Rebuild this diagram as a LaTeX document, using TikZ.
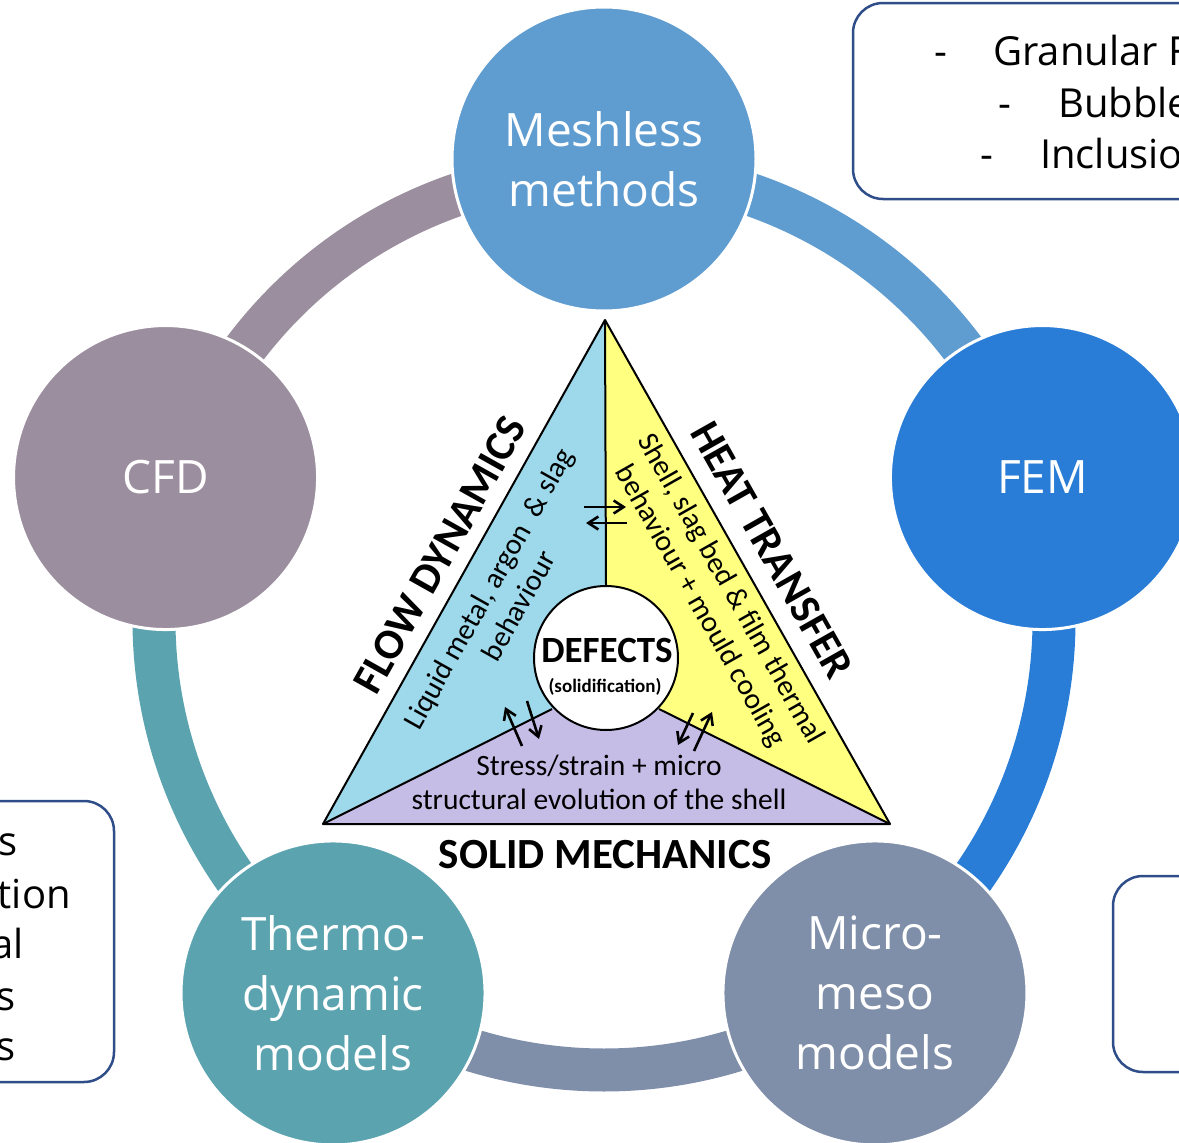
\documentclass[tikz,border=0pt]{standalone}
\usepackage{fontspec}
\setmainfont{Open Sans}
\newfontfamily\calib{Carlito}
\usetikzlibrary{arrows.meta}
\definecolor{cMesh}{RGB}{95,156,208}
\definecolor{cFEM}{RGB}{42,125,214}
\definecolor{cCFD}{RGB}{155,142,158}
\definecolor{cThermo}{RGB}{90,163,175}
\definecolor{cMicro}{RGB}{127,142,169}
\definecolor{cBox}{RGB}{47,77,136}
\definecolor{cCyan}{RGB}{157,217,234}
\definecolor{cYellow}{RGB}{255,255,128}
\definecolor{cPurple}{RGB}{197,189,230}
\begin{document}
\begin{tikzpicture}[x=1pt,y=-1pt,
  ringarc/.style={line width=43pt},
  hub/.style={circle, minimum size=304pt, inner sep=0pt, draw=white, line width=3pt,
    text=white, font=\fontsize{46}{60}\selectfont, align=center},
  infobox/.style={draw=cBox, line width=2.5pt, rounded corners=30pt},
  boxtext/.style={font=\fontsize{40}{52}\selectfont, inner sep=0pt},
  edgeline/.style={line width=2pt, black, line join=round},
  xarrow/.style={line width=2.6pt, -{Straight Barb[length=10pt,width=13pt]}},
  heading/.style={font=\calib\bfseries\fontsize{43}{47}\selectfont, inner sep=0pt},
  tritext/.style={font=\calib\fontsize{29.5}{35}\selectfont, align=center, inner sep=0pt}
]
\useasboundingbox (0,0) rectangle (1179,1143);
\clip (0,0) rectangle (1179,1143);

% ring
\coordinate (O) at (604,620);
\draw[ringarc, cMesh]   (O) ++(-90:450) arc[start angle=-90, end angle=-18, radius=450];
\draw[ringarc, cFEM]    (O) ++(-18:450) arc[start angle=-18, end angle=54, radius=450];
\draw[ringarc, cMicro]  (O) ++(54:450) arc[start angle=54, end angle=126, radius=450];
\draw[ringarc, cThermo] (O) ++(126:450) arc[start angle=126, end angle=198, radius=450];
\draw[ringarc, cCFD]    (O) ++(198:450) arc[start angle=198, end angle=270, radius=450];

% hubs
\path (O) ++(-90:461) node[hub, fill=cMesh] (mesh) {Meshless\\methods};
\path (O) ++(-18:461) node[hub, fill=cFEM] (fem) {FEM};
\path (O) ++(54:461) node[hub, fill=cMicro] (micro) {Micro-\\meso\\models};
\path (O) ++(126:461) node[hub, fill=cThermo] (thermo) {Thermo-\\dynamic\\models};
\path (O) ++(198:461) node[hub, fill=cCFD] (cfd) {CFD};

% boxes
\draw[infobox] (853,3) rectangle (1240,199);
\draw[infobox] (1113,876) rectangle (1240,1072);
\draw[infobox] (-60,801) rectangle (114,1082);

\node[boxtext, anchor=base] (d1) at (941,65) {-};
\node[boxtext, anchor=base west] (w1) at (993,65) {Granular Flow};
\node[boxtext, anchor=base] (d2) at (1005,117) {-};
\node[boxtext, anchor=base west] (w2) at (1058,117) {Bubbles};
\node[boxtext, anchor=base] (d3) at (987,168) {-};
\node[boxtext, anchor=base west] (w3) at (1040,168) {Inclusions};

\node[boxtext, anchor=base east] (b1) at (18,855) {s};
\node[boxtext, anchor=base east] (b2) at (71,908) {tion};
\node[boxtext, anchor=base east] (b3) at (24,958) {al};
\node[boxtext, anchor=base east] (b4) at (16,1010) {s};
\node[boxtext, anchor=base east] (b5) at (16,1060) {s};

% triangle
\coordinate (T) at (605,320);
\coordinate (L) at (323,824);
\coordinate (R) at (890,824);
\coordinate (B) at (605,824);
\coordinate (C) at (606,658);
\coordinate (P1) at (552,709);
\coordinate (P2) at (659,709);
\fill[cCyan] (T) -- (L) -- (B) -- cycle;
\fill[cYellow] (T) -- (B) -- (R) -- cycle;
\fill[cPurple] (L) -- (P1) -- (C) -- (P2) -- (R) -- cycle;
\draw[edgeline] (T) -- (L) -- (R) -- cycle;
\draw[edgeline] (L) -- (P1);
\draw[edgeline] (R) -- (P2);
\node[circle, minimum size=144pt, inner sep=0pt, draw, line width=2pt, fill=white] (def) at (C) {};
\draw[edgeline] (T) -- (def.north);

\node[font=\calib\bfseries\fontsize{37}{42}\selectfont, anchor=base, inner sep=0pt] (deftxt) at (607,662) {DEFECTS};
\node[font=\calib\bfseries\fontsize{19}{22}\selectfont, anchor=base, inner sep=0pt] (soltxt) at (605,692) {(solidification)};

\node[heading, rotate=60.7] (flow) at (440,555) {FLOW DYNAMICS};
\node[heading, rotate=-60.5] (heat) at (772,550) {HEAT TRANSFER};
\node[heading, anchor=base] (solid) at (605,868) {SOLID MECHANICS};

\node[tritext, rotate=60.7] (liq) at (503,597) {Liquid metal, argon\ \ \& slag\\behaviour};
\node[tritext, rotate=-60.5] (shell) at (715,598) {Shell, slag bed \& film thermal\\behaviour + mould cooling};
\node[tritext, anchor=base] (st1) at (599,775) {Stress/strain + micro};
\node[tritext, anchor=base] (st2) at (599,809) {structural evolution of the shell};

% exchange arrows
\coordinate (a1s) at (584,507); \coordinate (a1e) at (626,507);
\coordinate (a2s) at (627,523); \coordinate (a2e) at (586,523);
\coordinate (a3s) at (522,746); \coordinate (a3e) at (505,707);
\coordinate (a4s) at (527,701); \coordinate (a4e) at (539,739);
\coordinate (a5s) at (694,751); \coordinate (a5e) at (712,712);
\coordinate (a6s) at (693,713); \coordinate (a6e) at (678,745);
\draw[xarrow] (a1s) -- (a1e);
\draw[xarrow] (a2s) -- (a2e);
\draw[xarrow] (a3s) -- (a3e);
\draw[xarrow] (a4s) -- (a4e);
\draw[xarrow] (a5s) -- (a5e);
\draw[xarrow] (a6s) -- (a6e);
\end{tikzpicture}
\end{document}
